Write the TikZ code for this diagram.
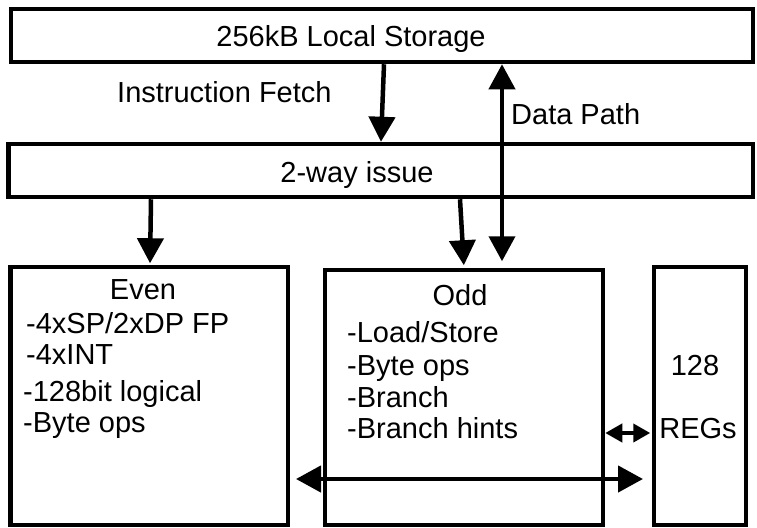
\documentclass[tikz,border=0pt]{standalone}
\usepackage{fontspec}
\setmainfont{Liberation Sans}
\usetikzlibrary{arrows.meta}
\begin{document}
\begin{tikzpicture}[x=1pt,y=-1pt,
  box/.style={draw, line width=4.5pt, inner sep=0pt},
  txt/.style={font=\fontsize{29}{33}\selectfont, inner sep=0pt},
  arr/.style={line width=4.5pt, -{Triangle[width=26pt,length=25pt]}},
  darr/.style={line width=4.5pt, {Triangle[width=26pt,length=25pt]}-{Triangle[width=26pt,length=25pt]}},
  sarr/.style={line width=4pt, {Triangle[width=18pt,length=17pt]}-{Triangle[width=18pt,length=17pt]}}
]
\useasboundingbox (0,0) rectangle (757,527);
\fill[white] (0,0) rectangle (757,527);
% boxes
\node[box, minimum width=742pt, minimum height=53pt] (ls) at (382,35.5) {};
\node[box, minimum width=744.5pt, minimum height=53pt] (issue) at (380.75,170.5) {};
\node[box, minimum width=277.5pt, minimum height=258pt] (even) at (149.25,396) {};
\node[box, minimum width=278pt, minimum height=255pt] (odd) at (464,397.5) {};
\node[box, minimum width=92pt, minimum height=258pt] (regs) at (700,396) {};
% helper x positions
\coordinate (xif1) at (384,0);
\coordinate (xif2) at (381,0);
\coordinate (xdp) at (502,0);
\coordinate (xev1) at (151,0);
\coordinate (xev2) at (150,0);
\coordinate (xod1) at (460,0);
\coordinate (xod2) at (464,0);
\coordinate (ybig) at (0,479);
\coordinate (ysmall) at (0,433);
% texts
\node[txt, anchor=base] (tls) at (351,47) {256kB Local Storage};
\node[txt, anchor=base west] (tif) at (117,102) {Instruction Fetch};
\node[txt, anchor=base west] (tdp) at (511,124) {Data Path};
\node[txt, anchor=base] (tis) at (357,182) {2-way issue};
\node[txt, anchor=base] (tev) at (143,299) {Even};
\node[txt, anchor=base west] (te1) at (26,333) {-4xSP/2xDP FP};
\node[txt, anchor=base west] (te2) at (26,364) {-4xINT};
\node[txt, anchor=base west] (te3) at (23,401) {-128bit logical};
\node[txt, anchor=base west] (te4) at (23,432) {-Byte ops};
\node[txt, anchor=base] (tod) at (460,305) {Odd};
\node[txt, anchor=base west] (to1) at (347,342) {-Load/Store};
\node[txt, anchor=base west] (to2) at (347,375) {-Byte ops};
\node[txt, anchor=base west] (to3) at (347,407) {-Branch};
\node[txt, anchor=base west] (to4) at (347,438) {-Branch hints};
\node[txt, anchor=base] (tr1) at (695,375) {128};
\node[txt, anchor=base] (tr2) at (698,438) {REGs};
% connectors
\draw[arr] (ls.south -| xif1) -- (issue.north -| xif2);
\draw[darr, line width=4pt, shorten >=6.5pt] (ls.south -| xdp) -- (odd.north -| xdp);
\draw[arr, shorten >=1.5pt] (issue.south -| xev1) -- (even.north -| xev2);
\draw[arr, shorten >=2.5pt] (issue.south -| xod1) -- (odd.north -| xod2);
\draw[darr, shorten <=5.75pt, shorten >=8.75pt] (even.east |- ybig) -- (regs.west |- ybig);
\draw[sarr, shorten >=1.5pt] (odd.east |- ysmall) -- (regs.west |- ysmall);
\end{tikzpicture}
\end{document}
